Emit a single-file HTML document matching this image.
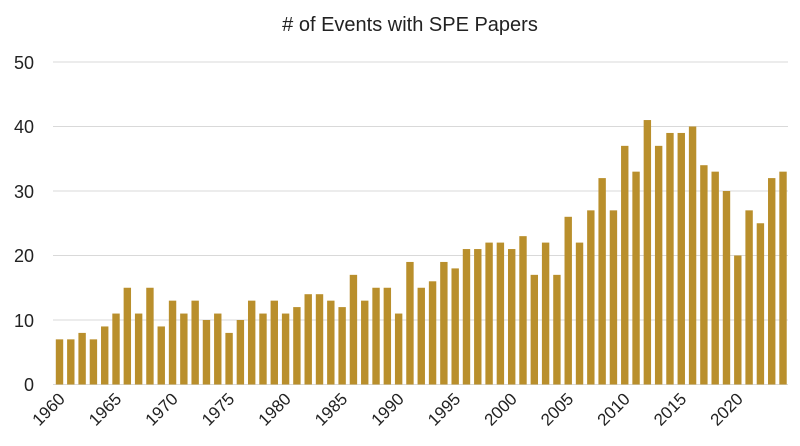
<!DOCTYPE html>
<html><head><meta charset="utf-8"><style>
html,body{margin:0;padding:0;background:#fff;}
svg{display:block;font-family:"Liberation Sans",sans-serif;}
</style></head><body>
<svg id="c" width="800" height="446" viewBox="0 0 800 446">
<text x="410" y="31" font-size="20" text-anchor="middle" fill="#222">
# of Events with SPE Papers</text>
<g stroke="#d9d9d9" stroke-width="1">
<line x1="53" y1="62" x2="788" y2="62"/>
<line x1="53" y1="126.5" x2="788" y2="126.5"/>
<line x1="53" y1="191" x2="788" y2="191"/>
<line x1="53" y1="255.5" x2="788" y2="255.5"/>
<line x1="53" y1="320" x2="788" y2="320"/>
<line x1="53" y1="384.5" x2="788" y2="384.5"/>
</g>
<g font-size="18" fill="#222" text-anchor="end">
<text x="34" y="69">50</text>
<text x="34" y="133">40</text>
<text x="34" y="198">30</text>
<text x="34" y="262">20</text>
<text x="34" y="327">10</text>
<text x="34" y="391">0</text>
</g>
<g id="bars" fill="#B98F2C"></g>
<g font-size="17" fill="#222" text-anchor="end">
<text transform="translate(66,400) rotate(-45)">1960</text>
<text transform="translate(122.5,400) rotate(-45)">1965</text>
<text transform="translate(179,400) rotate(-45)">1970</text>
<text transform="translate(235.5,400) rotate(-45)">1975</text>
<text transform="translate(292,400) rotate(-45)">1980</text>
<text transform="translate(348.5,400) rotate(-45)">1985</text>
<text transform="translate(405,400) rotate(-45)">1990</text>
<text transform="translate(461.5,400) rotate(-45)">1995</text>
<text transform="translate(518,400) rotate(-45)">2000</text>
<text transform="translate(574.5,400) rotate(-45)">2005</text>
<text transform="translate(631,400) rotate(-45)">2010</text>
<text transform="translate(687.5,400) rotate(-45)">2015</text>
<text transform="translate(744,400) rotate(-45)">2020</text>
</g>
</svg>
<script>
var v=[7,7,8,7,9,11,15,11,15,9,13,11,13,10,11,8,10,13,11,13,11,12,14,14,13,12,17,13,15,15,11,19,15,16,19,18,21,21,22,22,21,23,17,22,17,26,22,27,32,27,37,33,41,37,39,39,40,34,33,30,20,27,25,32,33];
var g=document.getElementById('bars'),s='';
for(var i=0;i<v.length;i++){var h=v[i]*6.45;s+='<rect x="'+(55.8+11.305*i).toFixed(2)+'" y="'+(384.5-h).toFixed(2)+'" width="7.4" height="'+h.toFixed(2)+'"/>';}
g.innerHTML=s;
</script>
</body></html>
